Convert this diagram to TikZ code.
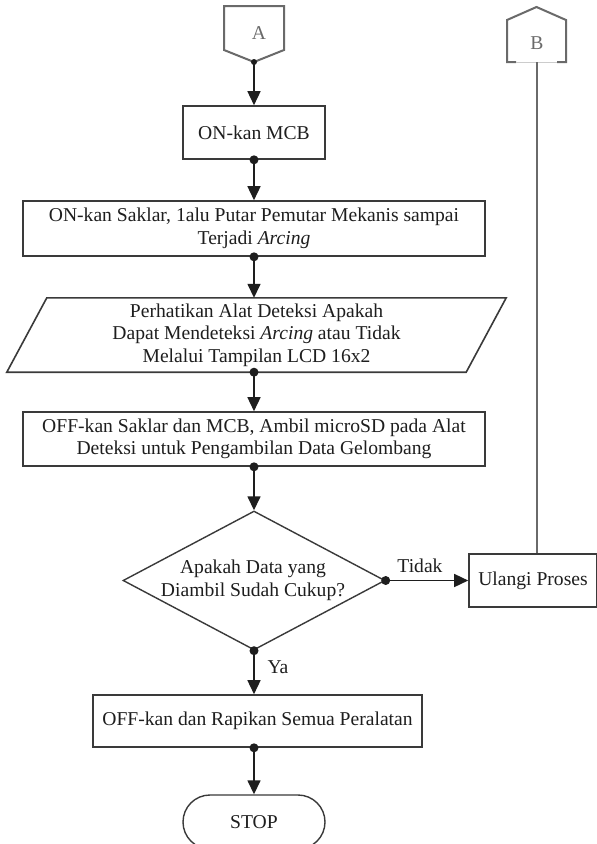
\documentclass[tikz,border=0pt]{standalone}
\usepackage{fontspec}
\setmainfont{Liberation Serif}
\usetikzlibrary{arrows.meta,shapes.geometric,calc}
\definecolor{edge}{HTML}{3A3A3A}
\definecolor{conn}{HTML}{6A6A6A}
\definecolor{ink}{HTML}{1E1E1E}

\begin{document}
\begin{tikzpicture}[x=1pt,y=-1pt,
  every node/.style={font=\fontsize{19.6}{22.5}\selectfont, text=ink},
  proc/.style={draw=edge, line width=1.6pt, rectangle, inner sep=0pt, align=center},
  plain/.style={inner sep=0pt, align=center},
  decision/.style={diamond, draw=edge, line width=1.4pt, inner sep=0pt,
                   minimum width=262pt, minimum height=139pt},
  terminal/.style={draw=edge, line width=1.4pt, rectangle, rounded corners=27pt,
                   inner sep=0pt, minimum width=142pt, minimum height=54pt},
  offpage/.style={draw=conn, line width=2pt, line join=miter},
  flow/.style={draw=ink, line width=1.5pt, -{Triangle[width=13pt,length=14pt]}},
  link/.style={draw=conn, line width=1.5pt},
  joint/.style={fill=ink}
]
\useasboundingbox (0,0) rectangle (597,844);
\fill[white] (0,0) rectangle (597,844);

% off-page connector A (entry from above)
\draw[offpage] (224,6) -- (284,6) -- (284,50) -- (254,62) -- (224,50) -- cycle;
\node[plain, text=conn] (A) at (259,33) {A};
\coordinate (Atip) at (254,62);

% off-page connector B (return path)
\draw[offpage] (516,62) -- (507,62) -- (507,20) -- (536.5,7) -- (566,20) -- (566,62) -- (557,62);
\draw[draw=black!20, line width=0.8pt] (516,62) -- (557,62);
\node[plain, text=conn] (B) at (537,43) {B};
\coordinate (Bbot) at (537,62);

% process steps
\node[proc, minimum width=142pt, minimum height=53pt] (mcb) at (254,132.5) {ON-kan MCB};
\node[proc, minimum width=462pt, minimum height=55pt] (saklar) at (254,228.5)
  {ON-kan Saklar, 1alu Putar Pemutar Mekanis sampai\\Terjadi \textit{Arcing}};

% input/output step (parallelogram)
\node[plain, minimum width=459pt, minimum height=74pt] (lcd) at (256.5,335)
  {Perhatikan Alat Deteksi Apakah\\Dapat Mendeteksi \textit{Arcing} atau Tidak\\Melalui Tampilan LCD 16x2};
\draw[draw=edge, line width=1.6pt]
  ($(lcd.north west)+(20,0)$) -- ($(lcd.north east)+(20,0)$) --
  ($(lcd.south east)+(-20,0)$) -- ($(lcd.south west)+(-20,0)$) -- cycle;

\node[proc, minimum width=462pt, minimum height=54pt] (ambil) at (254,439)
  {OFF-kan Saklar dan MCB, Ambil microSD pada Alat\\Deteksi untuk Pengambilan Data Gelombang};

% decision
\node[decision] (dec) at (254,580.5) {};
\node[plain] (dectxt) at (253,580.5) {Apakah Data yang\\Diambil Sudah Cukup?};

\node[proc, minimum width=128pt, minimum height=53pt] (ulang) at (533,580.5) {Ulangi Proses};

\node[proc, minimum width=329pt, minimum height=52pt] (rapi) at (257.5,721)
  {OFF-kan dan Rapikan Semua Peralatan};
\node[terminal] (stop) at (254,822) {STOP};

% connectors
\draw[flow] (Atip) -- (mcb.north);
\draw[flow] (mcb.south) -- (saklar.north);
\draw[flow] (saklar.south) -- (saklar.south |- lcd.north);
\draw[flow] (saklar.south |- lcd.south) -- (ambil.north);
\draw[flow] (ambil.south) -- (dec.north);
\draw[flow] (dec.east) -- (ulang.west);
\draw[flow] (dec.south) -- (dec.south |- rapi.north);
\draw[flow] (dec.south |- rapi.south) -- (stop.north);
\draw[link] (Bbot) -- (Bbot |- ulang.north);

% connector labels
\node[plain] (tidak) at (420,566) {Tidak};
\node[plain] (ya) at (278,667) {Ya};

% joints
\fill[joint] (Atip) circle (3pt);
\fill[joint] (mcb.south) circle (4.5pt);
\fill[joint] (saklar.south) circle (4.5pt);
\fill[joint] (saklar.south |- lcd.south) circle (4.5pt);
\fill[joint] (ambil.south) circle (4.5pt);
\fill[joint] (dec.east) circle (4.5pt);
\fill[joint] (dec.south) circle (4.5pt);
\fill[joint] (dec.south |- rapi.south) circle (4.5pt);
\end{tikzpicture}
\end{document}
